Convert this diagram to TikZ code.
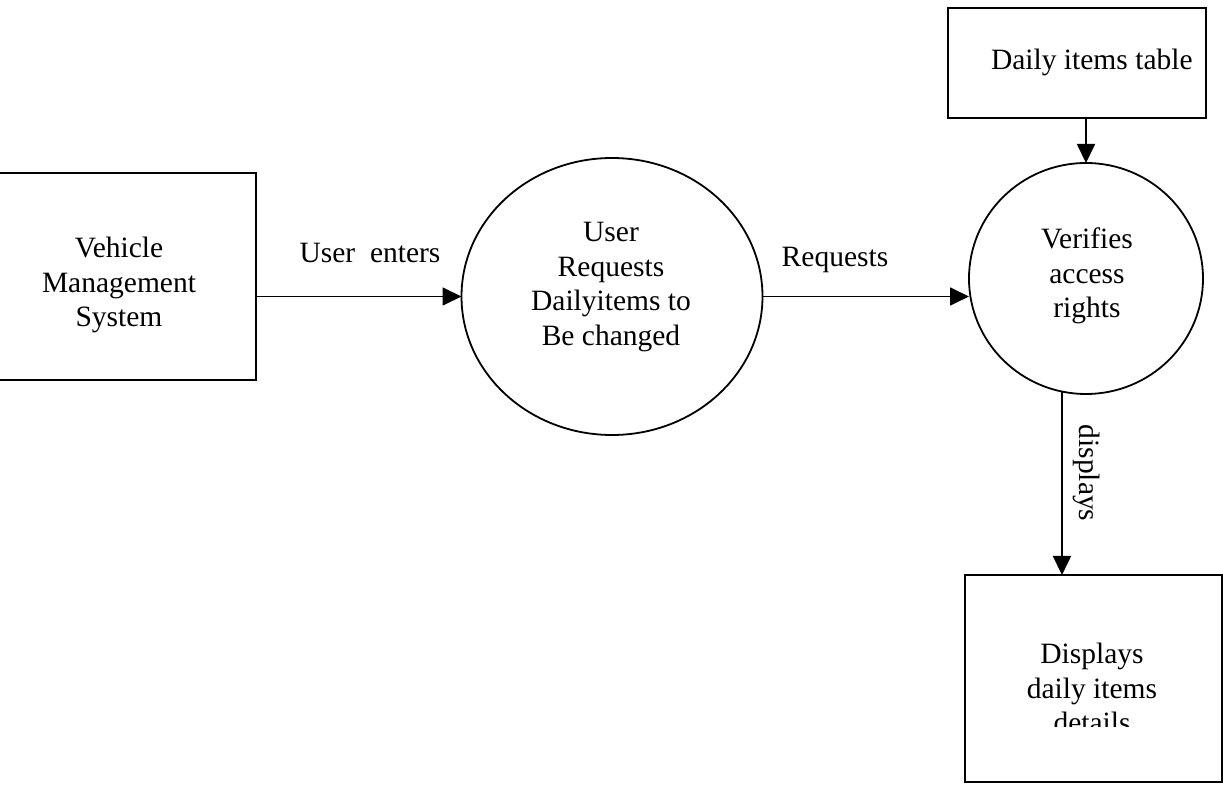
\documentclass[tikz,border=0pt]{standalone}
\usepackage{fontspec}
\setmainfont{Liberation Serif}
\usetikzlibrary{arrows.meta,shapes.geometric}
\begin{document}
\begin{tikzpicture}[x=0.5pt,y=-0.5pt,
  box/.style={draw,line width=0.9pt,rectangle,inner sep=0pt,outer sep=0pt},
  proc/.style={draw,line width=0.9pt,ellipse,inner sep=0pt,outer sep=0pt},
  txt/.style={align=center,font=\fontsize{14.75}{17.25}\selectfont,inner sep=0pt},
  lbl/.style={font=\fontsize{14.75}{17.25}\selectfont,inner sep=0pt},
  arr/.style={line width=0.9pt,-{Triangle[length=9.5pt,width=9pt]}},
]
\useasboundingbox (0,0) rectangle (1223,786);

% shapes
\node[box, minimum width=129.5pt, minimum height=103.5pt] (vms) at (126.5,276.5) {};
\node[box, minimum width=129pt, minimum height=55pt] (tbl) at (1077,63) {};
\node[box, minimum width=128.5pt, minimum height=103.5pt] (disp) at (1093.5,678.5) {};
\node[proc, minimum width=150.5pt, minimum height=138.5pt] (p1) at (612,296.5) {};
\node[proc, minimum width=117pt, minimum height=115.5pt] (p2) at (1086,278.5) {};

% texts
\node[txt] (vmst) at (119,285) {Vehicle\\Management\\System};
\node[txt] (p1t) at (611,287) {User\\Requests\\Dailyitems to\\Be changed};
\node[txt] (p2t) at (1087,276) {Verifies\\access\\rights};
\node[lbl, anchor=east] (tblt) at (1193,62) {Daily items table};
\begin{scope}
  \clip (960,570) rectangle (1223,727);
  \node[txt] (dispt) at (1092,688) {Displays\\daily items\\details};
\end{scope}

% connectors
\draw[arr] (vms.east |- p1.west) -- (p1.west);
\draw[arr] (p1.east) -- (p1.east -| p2.west);
\draw[arr] (p2.north |- tbl.south) -- (p2.north);
\draw[arr] (p2.258) -- (p2.258 |- disp.north);

% connector labels
\node[lbl] (l1) at (370,253) {User\ \ enters};
\node[lbl] (l2) at (835,260) {Requests};
\node[lbl, rotate=-90] (l3) at (1087,473) {displays};
\end{tikzpicture}
\end{document}
